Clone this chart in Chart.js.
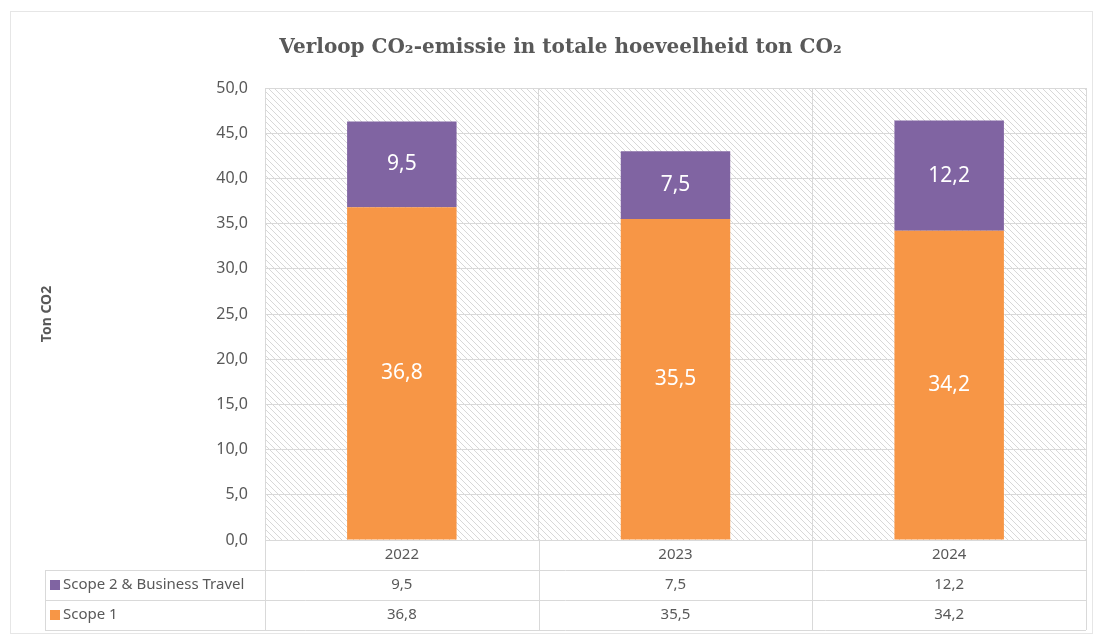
<!DOCTYPE html>
<html>
<head>
<meta charset="utf-8">
<script src="https://cdn.jsdelivr.net/npm/chart.js@4.4.0/dist/chart.umd.min.js"></script>
<style>
  html, body { margin: 0; padding: 0; background: #fff; }
  #wrap { width: 1102px; height: 637px; position: relative; }
</style>
</head>
<body>
<div id="wrap"><canvas id="myChart" width="1102" height="637"></canvas></div>
<script>
// data
const years = ['2022', '2023', '2024'];
const scope1 = [36.8, 35.5, 34.2];
const scope2 = [9.5, 7.5, 12.2];
const seriesNames = ['Scope 1', 'Scope 2 & Business Travel'];
const orange = '#F79646';
const purple = '#8064A2';
const grey = '#d9d9d9';
const textGrey = '#595959';

function fmt(v) {
    return v.toFixed(1).replace('.', ',');
}

// diagonal hatch for the plot area
function hatch() {
    var c = document.createElement('canvas');
    c.width = 6; c.height = 6;
    var g = c.getContext('2d');
    g.fillStyle = '#fff';
    g.fillRect(0, 0, 6, 6);
    g.strokeStyle = '#d8d8d8';
    g.lineWidth = 1;
    g.beginPath();
    g.moveTo(-1, -1); g.lineTo(7, 7);
    g.moveTo(-1, 5); g.lineTo(1, 7);
    g.moveTo(5, -1); g.lineTo(7, 1);
    g.stroke();
    return g.createPattern(c, 'repeat');
}

const backdrop = {
    id: 'backdrop',
    beforeDraw(chart) {
        const ctx = chart.ctx;
        const a = chart.chartArea;
        ctx.save();
        ctx.strokeStyle = '#e6e6e6';
        ctx.lineWidth = 1;
        ctx.strokeRect(10.5, 11.5, 1082, 622);
        ctx.fillStyle = hatch();
        ctx.fillRect(a.left, a.top, a.right - a.left, a.bottom - a.top);
        ctx.restore();
    }
};

// value labels inside the bars
const barLabels = {
    id: 'barLabels',
    afterDatasetsDraw(chart) {
        const ctx = chart.ctx;
        ctx.save();
        ctx.font = '21px "Noto Sans"';
        ctx.fillStyle = '#fff';
        ctx.textAlign = 'center';
        ctx.textBaseline = 'middle';
        chart.data.datasets.forEach((ds, i) => {
            chart.getDatasetMeta(i).data.forEach((bar, j) => {
                const p = bar.getCenterPoint();
                ctx.fillText(fmt(ds.data[j]), p.x, p.y);
            });
        });
        ctx.restore();
    }
};

// data table under the chart
const dataTable = {
    id: 'dataTable',
    afterDraw(chart) {
        const ctx = chart.ctx;
        const a = chart.chartArea;
        const x = chart.scales.x;
        const rowH = 30;
        const top = a.bottom;
        const labelLeft = 45;
        const half = (x.getPixelForValue(1) - x.getPixelForValue(0)) / 2;
        const rows = [
            { name: seriesNames[1], color: purple, values: scope2 },
            { name: seriesNames[0], color: orange, values: scope1 }
        ];
        ctx.save();
        ctx.strokeStyle = grey;
        ctx.lineWidth = 1;
        ctx.beginPath();
        // horizontal lines
        ctx.moveTo(a.left, top + 0.5); ctx.lineTo(a.right, top + 0.5);
        for (let r = 1; r <= 3; r++) {
            const y = Math.round(top + r * rowH) + 0.5;
            ctx.moveTo(labelLeft, y); ctx.lineTo(a.right, y);
        }
        // vertical lines
        ctx.moveTo(labelLeft + 0.5, top + rowH); ctx.lineTo(labelLeft + 0.5, top + 3 * rowH);
        for (let i = 0; i <= years.length; i++) {
            const xx = Math.round(x.getPixelForValue(0) - half + i * 2 * half) + 0.5;
            ctx.moveTo(xx, top); ctx.lineTo(xx, top + 3 * rowH);
        }
        ctx.stroke();

        ctx.font = '15px "Noto Sans"';
        ctx.fillStyle = textGrey;
        ctx.textBaseline = 'middle';
        ctx.textAlign = 'center';
        years.forEach((yr, i) => {
            ctx.fillText(yr, x.getPixelForValue(i), top + rowH / 2);
        });
        rows.forEach((row, r) => {
            const cy = top + (r + 1) * rowH + rowH / 2;
            ctx.fillStyle = row.color;
            ctx.fillRect(labelLeft + 5, cy - 5, 10, 10);
            ctx.fillStyle = textGrey;
            ctx.textAlign = 'left';
            ctx.fillText(row.name, labelLeft + 18, cy);
            ctx.textAlign = 'center';
            row.values.forEach((v, i) => {
                ctx.fillText(fmt(v), x.getPixelForValue(i), cy);
            });
        });
        ctx.restore();
    }
};

var ctx = document.getElementById('myChart').getContext('2d');
var chart = new Chart(ctx, {
    type: 'bar',
    data: {
        labels: years,
        datasets: [
            {
                label: seriesNames[0],
                data: scope1,
                backgroundColor: orange,
                categoryPercentage: 1,
                barPercentage: 0.4
            },
            {
                label: seriesNames[1],
                data: scope2,
                backgroundColor: purple,
                categoryPercentage: 1,
                barPercentage: 0.4
            }
        ]
    },
    options: {
        responsive: false,
        animation: false,
        layout: {
            padding: { left: 35, right: 16, top: 12, bottom: 97 }
        },
        plugins: {
            legend: { display: false },
            tooltip: { enabled: false },
            title: {
                display: true,
                text: 'Verloop CO\u2082-emissie in totale hoeveelheid ton CO\u2082',
                color: textGrey,
                font: { family: '"DejaVu Serif"', size: 20, weight: 'bold' },
                padding: { top: 24, bottom: 28 }
            }
        },
        scales: {
            x: {
                stacked: true,
                ticks: { display: false },
                grid: { color: grey, offset: true, drawTicks: false },
                border: { display: false }
            },
            y: {
                stacked: true,
                min: 0,
                max: 50,
                ticks: {
                    stepSize: 5,
                    padding: 17,
                    color: textGrey,
                    font: { family: '"Noto Sans"', size: 16 },
                    callback: v => fmt(v)
                },
                grid: { color: grey, drawTicks: false },
                border: { color: grey },
                title: {
                    display: true,
                    text: 'Ton CO2',
                    color: textGrey,
                    font: { family: '"Noto Sans"', size: 14, weight: 'bold' }
                },
                afterFit(scale) { scale.width = 230; }
            }
        }
    },
    plugins: [backdrop, barLabels, dataTable]
});
</script>
</body>
</html>
